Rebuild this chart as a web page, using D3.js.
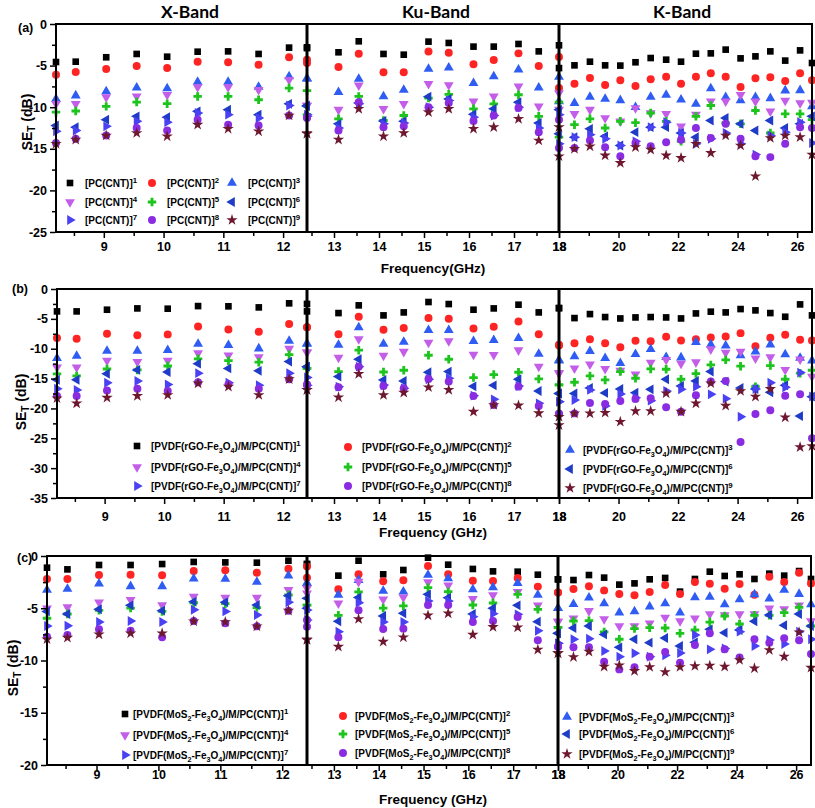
<!DOCTYPE html>
<html><head><meta charset="utf-8">
<script src="https://cdn.jsdelivr.net/npm/d3@7"></script>
<style>
body{margin:0;background:#fff}
svg{display:block}
text{font-family:Arial,"Liberation Sans",sans-serif;font-weight:bold;fill:#000}
</style>
</head><body>
<svg id="chart" width="815" height="808"></svg>
<script>
// ---------- DATA ----------
const freqX  = [8.2, 8.53, 9.04, 9.55, 10.06, 10.57, 11.08, 11.59, 12.1, 12.4];
const freqKu = [12.4, 13.1, 13.55, 14.1, 14.55, 15.1, 15.55, 16.1, 16.55, 17.1, 17.55, 18.0];
const freqK  = [18.0, 18.52, 19.04, 19.55, 20.06, 20.57, 21.08, 21.6, 22.1, 22.6, 23.1, 23.6, 24.1, 24.6, 25.1, 25.6, 26.1, 26.5];

const bandNames = ["X-Band", "Ku-Band", "K-Band"];
const bandDomains = [[8.2, 12.4], [12.4, 18], [18, 26.5]];
const majorTicksX = [[9, 10, 11, 12], [13, 14, 15, 16, 17, 18], [18, 20, 22, 24, 26]];
const minorTicksX = [[8.5, 9.5, 10.5, 11.5], [12.5, 13.5, 14.5, 15.5, 16.5, 17.5], [19, 21, 23, 25]];

const yTicksA = [0, -5, -10, -15, -20, -25];
const yTicksB = [0, -5, -10, -15, -20, -25, -30, -35];
const yTicksC = [0, -5, -10, -15, -20];

const labelsA = ["[PC(CNT)]^1","[PC(CNT)]^2","[PC(CNT)]^3","[PC(CNT)]^4","[PC(CNT)]^5","[PC(CNT)]^6","[PC(CNT)]^7","[PC(CNT)]^8","[PC(CNT)]^9"];
const labelsB = [1,2,3,4,5,6,7,8,9].map(i => "[PVDF(rGO-Fe_3O_4)/M/PC(CNT)]^" + i);
const labelsC = [1,2,3,4,5,6,7,8,9].map(i => "[PVDF(MoS_2-Fe_3O_4)/M/PC(CNT)]^" + i);

// Panel (a) SE_T (dB), rows = series 1..9
const aX = [
 [-4.57,-4.53,-4.0,-3.6,-3.93,-3.33,-3.29,-3.6,-2.84,-2.8],
 [-6.1,-5.77,-5.4,-5.05,-5.29,-4.53,-4.6,-4.89,-4.0,-4.3],
 [-9.0,-8.6,-8.1,-7.65,-7.73,-6.97,-6.97,-7.57,-6.3,-6.5],
 [-9.6,-9.6,-8.8,-8.7,-8.5,-7.57,-7.57,-7.9,-6.7,-9.8],
 [-10.6,-10.46,-9.9,-9.38,-9.58,-8.7,-8.7,-9.1,-7.7,-8.0],
 [-12.2,-12.4,-11.5,-11.1,-11.2,-10.5,-10.3,-10.9,-9.6,-9.8],
 [-12.9,-12.8,-12.3,-11.7,-11.8,-10.7,-10.9,-11.3,-9.8,-10.9],
 [-14.3,-13.8,-13.4,-12.5,-12.8,-11.5,-12.1,-12.2,-11.0,-11.2],
 [-14.4,-13.9,-13.4,-13.1,-13.5,-12.1,-12.6,-12.9,-11.0,-13.1]
];
const aKu = [
 [-2.9,-3.4,-2.08,-3.6,-3.69,-2.12,-2.28,-2.72,-2.72,-2.4,-3.29,-2.56],
 [-4.7,-5.17,-3.57,-5.8,-5.8,-3.3,-3.45,-4.85,-4.33,-3.53,-5.05,-3.97],
 [-6.6,-8.2,-6.6,-8.7,-7.93,-5.4,-5.25,-7.1,-6.3,-5.5,-7.65,-6.37],
 [-9.8,-10.3,-7.37,-10.2,-9.6,-7.2,-7.33,-9.3,-8.7,-7.5,-9.9,-8.3],
 [-10.9,-11.4,-8.7,-11.6,-11.0,-8.9,-8.45,-10.2,-9.6,-8.5,-11.1,-9.4],
 [-9.9,-12.0,-9.5,-11.66,-11.7,-8.73,-9.0,-10.86,-10.2,-9.4,-11.9,-10.3],
 [-11.1,-12.5,-9.6,-12.0,-11.9,-10.0,-9.2,-11.2,-11.0,-10.0,-12.5,-10.9],
 [-11.3,-12.8,-9.4,-12.4,-12.3,-10.0,-9.5,-11.66,-11.0,-10.1,-13.0,-11.5],
 [-13.2,-13.9,-10.2,-13.5,-13.1,-10.6,-10.2,-12.6,-12.4,-11.4,-14.0,-12.4]
];
const aK = [
 [-5.3,-4.97,-4.53,-4.97,-5.0,-4.6,-4.09,-4.29,-4.53,-3.57,-3.53,-3.08,-4.13,-3.89,-3.29,-4.4,-3.17,-4.69],
 [-7.7,-7.17,-6.49,-7.33,-6.77,-7.45,-6.65,-6.33,-7.17,-6.33,-5.93,-6.33,-7.57,-6.53,-6.41,-6.85,-5.93,-6.77],
 [-9.3,-9.5,-8.77,-9.0,-9.17,-10.0,-8.77,-8.53,-9.1,-9.6,-7.73,-8.8,-9.17,-8.8,-8.93,-8.0,-7.97,-9.9],
 [-10.3,-10.8,-10.3,-11.3,-11.7,-10.1,-10.7,-10.8,-12.3,-10.9,-9.3,-9.3,-8.5,-9.3,-10.5,-9.2,-9.5,-9.45],
 [-13.6,-12.1,-11.4,-12.5,-11.7,-11.86,-10.7,-11.7,-14.1,-11.1,-9.8,-11.9,-12.0,-10.4,-13.1,-10.8,-10.8,-11.5],
 [-13.2,-13.6,-12.6,-13.5,-14.6,-13.0,-12.4,-12.4,-13.1,-13.6,-11.6,-11.3,-12.0,-12.8,-11.6,-12.5,-12.0,-11.1],
 [-14.4,-13.6,-13.3,-13.8,-14.6,-14.1,-12.4,-11.8,-13.1,-14.4,-13.8,-13.1,-14.4,-15.7,-13.4,-13.0,-11.8,-14.3],
 [-14.9,-14.9,-14.0,-14.8,-15.9,-14.3,-14.7,-14.2,-13.9,-12.5,-13.7,-12.0,-13.8,-15.9,-16.0,-14.4,-12.4,-12.5],
 [-15.9,-15.0,-14.7,-15.8,-16.7,-14.8,-15.1,-15.8,-16.1,-14.4,-15.5,-13.4,-14.6,-18.3,-13.7,-13.4,-13.6,-15.7]
];

// Panel (b)
const bX = [
 [-3.75,-3.75,-3.47,-3.25,-3.3,-2.86,-2.9,-3.08,-2.4,-2.5],
 [-8.2,-8.34,-7.5,-7.73,-7.6,-6.27,-6.77,-7.17,-5.88,-6.4],
 [-11.6,-11.2,-10.36,-10.36,-10.25,-9.18,-9.4,-9.97,-8.68,-9.1],
 [-13.1,-13.1,-12.0,-12.2,-12.0,-10.75,-11.1,-11.4,-10.0,-10.6],
 [-14.2,-14.56,-13.4,-13.55,-12.9,-11.7,-12.0,-12.26,-11.0,-13.3],
 [-15.2,-15.2,-14.2,-13.55,-13.9,-12.5,-13.3,-13.7,-12.15,-13.0],
 [-16.7,-16.9,-15.7,-15.4,-16.0,-14.1,-15.7,-16.1,-14.1,-16.1],
 [-17.9,-17.9,-17.0,-16.7,-17.1,-15.6,-16.0,-16.7,-15.1,-16.1],
 [-18.3,-19.15,-18.2,-17.9,-17.75,-15.8,-16.35,-17.75,-15.1,-16.9]
];
const bKu = [
 [-3.75,-4.03,-2.74,-4.42,-3.92,-2.18,-2.52,-3.47,-3.25,-2.63,-3.92,-3.2],
 [-6.4,-7.56,-4.65,-6.83,-6.55,-4.87,-4.98,-6.6,-6.33,-5.43,-7.56,-9.35],
 [-9.18,-9.35,-6.44,-9.18,-8.85,-6.89,-6.89,-8.73,-8.57,-8.23,-10.86,-11.87],
 [-10.6,-11.48,-8.4,-11.14,-10.5,-8.96,-8.73,-10.97,-11.03,-10.25,-13.0,-14.1],
 [-13.3,-13.83,-10.25,-13.9,-13.6,-11.09,-11.76,-14.84,-14.33,-13.94,-15.06,-16.07],
 [-13.0,-14.67,-11.76,-15.23,-15.4,-13.94,-13.83,-16.3,-16.13,-15.12,-17.08,-17.5],
 [-14.8,-16.35,-13.0,-16.07,-16.63,-15.12,-14.95,-17.86,-18.48,-16.24,-19.15,-18.87],
 [-16.0,-16.46,-13.0,-16.24,-16.63,-15.06,-15.5,-17.92,-19.43,-16.35,-19.6,-20.9],
 [-16.9,-18.14,-14.22,-17.75,-17.36,-16.46,-16.9,-20.55,-19.43,-19.5,-20.8,-21.4]
];
const bK = [
 [-3.2,-4.87,-4.2,-4.7,-4.93,-4.76,-4.7,-4.76,-4.93,-4.09,-3.8,-3.92,-3.36,-3.58,-4.03,-4.65,-2.58,-4.42],
 [-9.46,-9.07,-8.4,-9.07,-9.74,-8.68,-8.73,-8.0,-8.62,-8.4,-8.12,-7.95,-7.39,-9.57,-8.17,-7.67,-8.51,-8.62],
 [-11.98,-11.3,-10.4,-11.6,-12.43,-10.92,-10.08,-11.42,-11.48,-8.9,-9.3,-9.5,-11.14,-10.5,-9.3,-10.97,-11.53,-11.98],
 [-14.1,-13.27,-12.6,-13.38,-13.66,-14.28,-12.32,-11.87,-12.5,-12.26,-10.08,-10.64,-10.47,-11.6,-11.42,-13.55,-11.76,-14.67],
 [-16.07,-15.62,-14.56,-15.23,-13.83,-14.95,-13.38,-13.44,-15.12,-14.17,-12.71,-11.87,-12.93,-16.35,-12.82,-15.12,-14.1,-13.6],
 [-17.5,-17.5,-16.57,-17.4,-16.74,-17.36,-16.8,-15.12,-16.24,-15.4,-13.83,-15.5,-16.57,-16.74,-17.3,-16.13,-21.28,-18.03],
 [-18.87,-18.6,-16.9,-19.6,-17.58,-18.2,-18.7,-17.08,-16.8,-16.35,-17.64,-18.37,-21.39,-16.74,-15.68,-16.46,-14.0,-18.0],
 [-20.94,-20.83,-19.1,-19.26,-18.76,-18.42,-18.3,-19.82,-20.55,-17.8,-15.5,-15.4,-25.64,-20.94,-20.32,-17.86,-17.64,-25.0],
 [-22.8,-20.83,-20.83,-20.72,-22.23,-20.44,-20.44,-17.47,-20.55,-19.15,-15.79,-19.54,-17.08,-18.03,-16.74,-21.5,-26.48,-26.3]
];

// Panel (c)
const cX = [
 [-1.12,-1.28,-0.86,-0.86,-0.77,-0.57,-0.61,-0.64,-0.45,-0.77],
 [-2.2,-2.2,-1.82,-1.79,-1.85,-1.44,-1.37,-1.6,-1.21,-1.0],
 [-3.25,-3.16,-2.65,-2.9,-2.9,-2.17,-2.2,-2.49,-1.88,-2.6],
 [-5.0,-4.9,-4.43,-4.2,-4.7,-3.89,-3.99,-3.99,-3.25,-3.57],
 [-5.96,-5.55,-5.2,-4.98,-5.3,-4.47,-4.56,-4.94,-3.73,-4.7],
 [-5.3,-5.55,-5.1,-4.72,-5.23,-4.37,-4.43,-4.69,-3.8,-4.05],
 [-6.7,-6.67,-6.32,-6.22,-6.32,-5.14,-5.3,-5.65,-4.43,-5.17],
 [-7.72,-7.56,-7.02,-7.15,-7.78,-6.22,-6.44,-6.73,-5.23,-6.12],
 [-7.97,-7.82,-7.5,-7.4,-7.4,-6.25,-6.32,-6.73,-5.23,-8.04]
];
const cKu = [
 [-0.77,-1.88,-0.45,-1.75,-1.34,-0.16,-0.83,-1.24,-1.47,-1.5,-1.79,-2.23],
 [-2.07,-3.19,-1.75,-2.42,-2.33,-0.96,-1.75,-2.36,-2.39,-2.1,-2.93,-3.5],
 [-2.6,-3.73,-2.3,-3.35,-3.41,-1.82,-2.14,-3.19,-3.0,-2.6,-3.73,-5.0],
 [-3.1,-4.53,-2.46,-4.15,-3.96,-2.49,-2.81,-4.11,-3.73,-3.44,-4.72,-6.28],
 [-4.7,-5.68,-3.44,-4.98,-4.78,-3.03,-3.41,-4.69,-4.5,-3.67,-5.1,-6.83],
 [-5.0,-6.25,-3.96,-5.74,-5.49,-3.67,-3.99,-5.55,-5.0,-4.72,-6.28,-7.4],
 [-6.12,-7.24,-4.47,-6.32,-6.32,-4.31,-4.31,-5.81,-5.52,-5.58,-7.15,-8.36],
 [-6.76,-7.78,-5.2,-6.99,-6.95,-4.69,-4.69,-6.32,-6.22,-5.84,-8.07,-8.68],
 [-7.97,-8.68,-6.03,-8.2,-7.78,-5.68,-5.49,-7.53,-6.79,-6.83,-8.96,-9.3]
];
const cK = [
 [-2.23,-2.3,-1.82,-2.07,-2.74,-2.62,-2.23,-2.1,-3.41,-2.2,-1.5,-1.91,-1.75,-2.2,-1.69,-1.88,-1.44,-2.2],
 [-3.5,-3.16,-2.9,-3.29,-3.64,-3.76,-3.44,-2.78,-3.64,-2.49,-2.65,-3.13,-2.68,-3.7,-1.98,-2.49,-1.6,-2.62],
 [-5.0,-4.6,-3.99,-4.53,-5.42,-5.3,-4.85,-4.53,-5.42,-3.96,-3.92,-4.63,-4.15,-3.67,-4.08,-3.25,-3.64,-4.63],
 [-6.28,-5.96,-5.26,-6.03,-6.7,-6.7,-6.44,-5.9,-6.22,-5.96,-5.55,-5.65,-5.55,-5.55,-5.0,-5.07,-4.72,-6.22],
 [-6.83,-6.22,-6.19,-7.27,-7.97,-6.95,-6.86,-6.89,-7.4,-7.08,-6.32,-5.74,-6.51,-5.68,-5.68,-5.42,-4.91,-6.7],
 [-7.4,-6.89,-6.7,-7.5,-8.74,-7.97,-8.29,-7.85,-8.61,-8.26,-7.02,-7.34,-7.08,-6.25,-5.65,-6.63,-5.55,-6.7],
 [-8.36,-7.97,-7.91,-9.09,-9.63,-9.31,-9.63,-9.5,-9.28,-7.56,-8.93,-8.84,-7.24,-8.61,-8.04,-8.42,-7.24,-7.97],
 [-8.68,-8.74,-8.74,-10.11,-10.85,-10.65,-9.63,-9.19,-10.21,-8.52,-7.4,-8.93,-9.7,-7.97,-8.29,-7.88,-8.07,-9.38],
 [-9.3,-9.67,-9.15,-10.59,-10.46,-11.0,-10.62,-11.1,-10.62,-10.53,-10.49,-10.59,-9.95,-10.75,-9.0,-9.63,-7.3,-10.69]
];

// ---------- STYLE ----------
const colors = ["#000000","#ff2424","#2f5cf2","#c35ee8","#1ec41e","#1f3cc8","#4a42f2","#8a2de2","#6e1830"];
const symbols = [
  {type: d3.symbolSquare, size: 44, rot: 0},
  {type: d3.symbolCircle, size: 50, rot: 0},
  {type: d3.symbolTriangle, size: 42, rot: 0},
  {type: d3.symbolTriangle, size: 42, rot: 180},
  {type: d3.symbolCross, size: 40, rot: 0},
  {type: d3.symbolTriangle, size: 42, rot: -90},
  {type: d3.symbolTriangle, size: 42, rot: 90},
  {type: d3.symbolCircle, size: 50, rot: 0},
  {type: d3.symbolStar, size: 40, rot: 0}
];

const svg = d3.select("#chart");

function drawMarker(g, s, x, y) {
  const sy = symbols[s];
  g.append("path")
    .attr("d", d3.symbol().type(sy.type).size(sy.size)())
    .attr("transform", `translate(${x},${y}) rotate(${sy.rot})`)
    .attr("fill", colors[s]);
}

function richText(t, str, baseSize) {
  const parts = str.split(/([_^][0-9A-Z])/).filter(p => p.length);
  let cur = 0;
  parts.forEach(p => {
    let target = 0, txt = p, size = baseSize;
    if (p[0] === "_") { target = 3; txt = p.slice(1); size = baseSize * 0.72; }
    else if (p[0] === "^") { target = -4.5; txt = p.slice(1); size = baseSize * 0.78; }
    t.append("tspan").attr("dy", target - cur).attr("font-size", size).text(txt);
    cur = target;
  });
}

const panels = [
  {tag: "(a)", tagX: 18, tagY: 32, top: 24, bottom: 232, left: 56, divs: [307, 559], right: 812,
   yDom: [-25, 0], yTicks: yTicksA, data: [aX, aKu, aK], labels: labelsA,
   tickLabelOff: 14, xTitle: "Frequency(GHz)", xTitleY: 273, yTitleX: 27, yTitleY: 122,
   legend: {cols: [[70, 85], [152, 167], [232, 248]], rows: [[183, 183, 183], [202, 202, 202], [220, 220, 220]], order: "row"}},
  {tag: "(b)", tagX: 12, tagY: 293, top: 289, bottom: 498, left: 57, divs: [307, 559], right: 812,
   yDom: [-35, 0], yTicks: yTicksB, data: [bX, bKu, bK], labels: labelsB,
   tickLabelOff: 18, xTitle: "Frequency (GHz)", xTitleY: 537, yTitleX: 21, yTitleY: 402,
   legend: {cols: [[137, 151], [348, 362], [570, 583]], rows: [[446, 447, 450], [467, 467, 469], [486, 486, 488]], order: "col"}},
  {tag: "(c)", tagX: 17, tagY: 562, top: 556, bottom: 765, left: 47, divs: [307, 558], right: 811,
   yDom: [-20, 0], yTicks: yTicksC, data: [cX, cKu, cK], labels: labelsC,
   tickLabelOff: 9, xTitle: "Frequency (GHz)", xTitleY: 804, yTitleX: 13, yTitleY: 668,
   legend: {cols: [[125, 133], [343, 355], [567, 579]], rows: [[714, 716, 717], [735, 734, 734], [755, 753, 754]], order: "col"}}
];

const freqs = [freqX, freqKu, freqK];

// Band titles
const bandTitleX = [190, 436, 682];
bandNames.forEach((n, i) => {
  svg.append("text").attr("x", bandTitleX[i]).attr("y", 18)
    .attr("text-anchor", "middle").attr("font-size", 17.5)
    .style("font-family", "Lato, 'Open Sans', Arial, sans-serif").text(n);
});

panels.forEach(P => {
  const g = svg.append("g");
  const y = d3.scaleLinear().domain(P.yDom).range([P.bottom, P.top]);
  const edges = [P.left, P.divs[0], P.divs[1], P.right];
  const xs = bandDomains.map((d, i) => d3.scaleLinear().domain(d).range([edges[i], edges[i + 1]]));

  // points
  for (let s = 0; s < 9; s++) {
    for (let b = 0; b < 3; b++) {
      const vals = P.data[b][s];
      vals.forEach((v, k) => drawMarker(g, s, xs[b](freqs[b][k]), y(v)));
    }
  }

  // frame
  g.append("rect").attr("x", P.left).attr("y", P.top)
    .attr("width", P.right - P.left).attr("height", P.bottom - P.top)
    .attr("fill", "none").attr("stroke", "#000").attr("stroke-width", 2);
  P.divs.forEach(d => g.append("line").attr("x1", d).attr("x2", d)
    .attr("y1", P.top).attr("y2", P.bottom).attr("stroke", "#000").attr("stroke-width", 3));

  // y axis
  const minorY = d3.range(P.yDom[0], P.yDom[1], 2.5).filter(v => v % 5 !== 0);
  g.append("g").attr("transform", `translate(${P.left - 1},0)`)
    .call(d3.axisLeft(y).tickValues(P.yTicks).tickSize(5).tickPadding(3).tickFormat(d => String(d)));
  g.append("g").attr("transform", `translate(${P.left - 1},0)`)
    .call(d3.axisLeft(y).tickValues(minorY).tickSize(3).tickFormat(""));

  // x axes per band
  xs.forEach((x, b) => {
    g.append("g").attr("transform", `translate(0,${P.bottom + 1})`)
      .call(d3.axisBottom(x).tickValues(majorTicksX[b]).tickSize(5)
        .tickPadding(P.tickLabelOff - 9.5).tickFormat(d => String(d)));
    g.append("g").attr("transform", `translate(0,${P.bottom + 1})`)
      .call(d3.axisBottom(x).tickValues(minorTicksX[b]).tickSize(3).tickFormat(""));
  });

  g.selectAll(".domain").remove();
  g.selectAll(".tick line").attr("stroke", "#000").attr("stroke-width", 1.5);
  g.selectAll(".tick text").attr("font-size", 12.5)
    .style("font-family", "Arial, 'Liberation Sans', sans-serif").style("font-weight", "bold").attr("fill", "#000");

  // panel tag
  svg.append("text").attr("x", P.tagX).attr("y", P.tagY).attr("font-size", 12.5).text(P.tag);

  // x title
  svg.append("text").attr("x", 433).attr("y", P.xTitleY).attr("text-anchor", "middle")
    .attr("font-size", 13.5).text(P.xTitle);

  // y title
  const yt = svg.append("text").attr("text-anchor", "middle")
    .attr("transform", `translate(${P.yTitleX + 5},${P.yTitleY}) rotate(-90)`).attr("font-size", 14);
  richText(yt, "SE_T (dB)", 14);

  // legend
  const L = P.legend;
  for (let s = 0; s < 9; s++) {
    const c = s % 3, r = Math.floor(s / 3);
    const [sx, tx] = L.cols[c];
    const ly = L.rows[r][c];
    drawMarker(svg, s, sx, ly);
    const t = svg.append("text").attr("x", tx).attr("y", ly + 4).attr("font-size", 10);
    richText(t, P.labels[s], 10);
  }
});
</script>
</body></html>
